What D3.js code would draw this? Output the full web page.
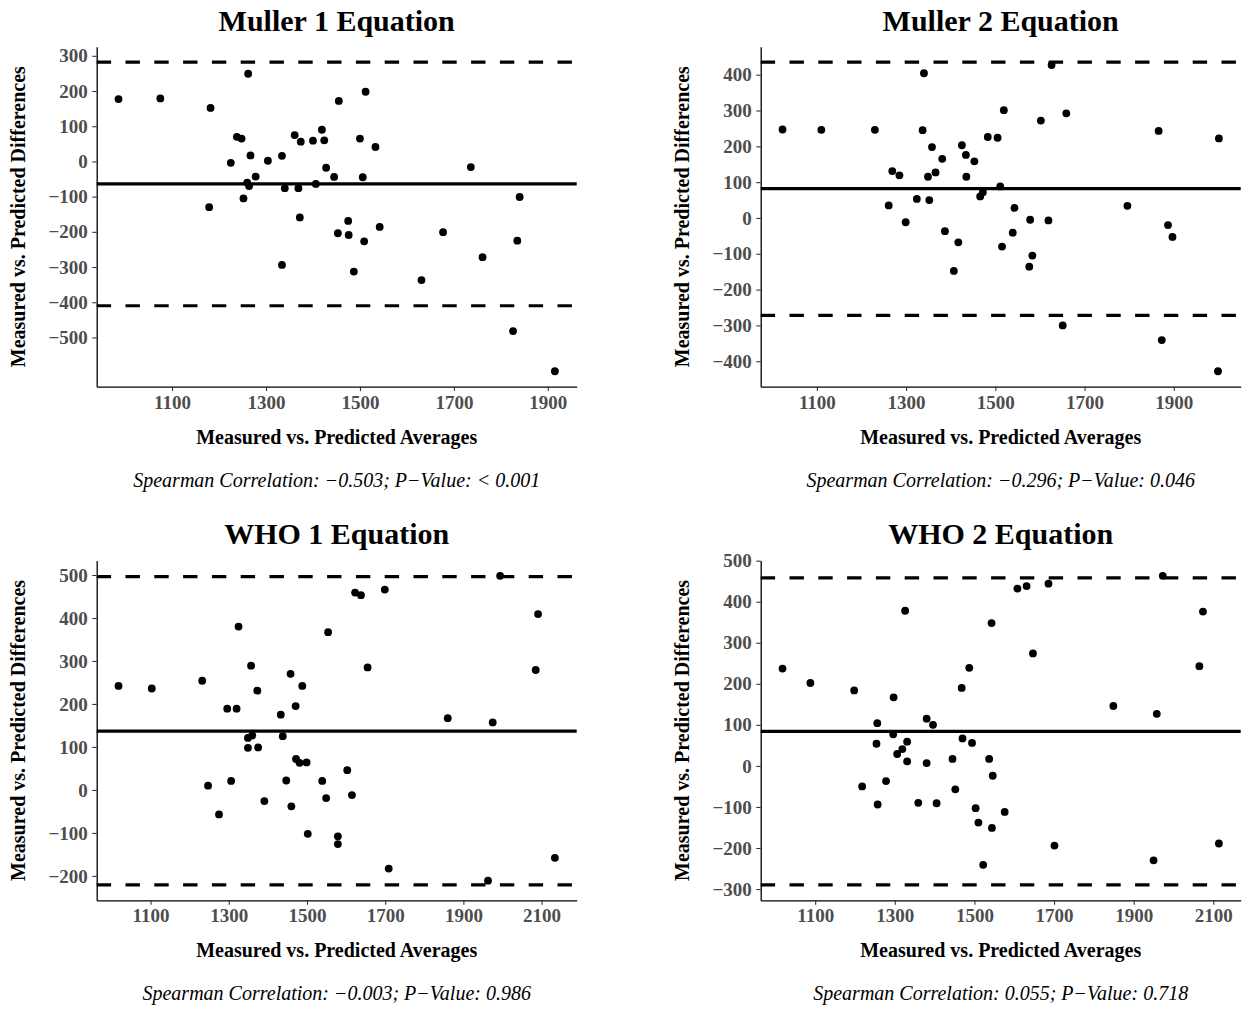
<!DOCTYPE html>
<html>
<head>
<meta charset="utf-8">
<script src="https://cdn.jsdelivr.net/npm/d3@7"></script>
<style>
body { margin: 0; background: #fff; }
svg { display: block; font-family: 'Liberation Serif', 'Times New Roman', serif; }
</style>
</head>
<body>
<div id="chart-area"></div>
<script>
// Bland-Altman style panels: averages (x) vs differences (y)
var titles = ['Muller 1 Equation', 'Muller 2 Equation', 'WHO 1 Equation', 'WHO 2 Equation'];
var captions = [
	'Spearman Correlation: \u22120.503; P\u2212Value: < 0.001',
	'Spearman Correlation: \u22120.296; P\u2212Value: 0.046',
	'Spearman Correlation: \u22120.003; P\u2212Value: 0.986',
	'Spearman Correlation: 0.055; P\u2212Value: 0.718'
];

var muller1X = [986, 1075, 1182, 1179, 1225, 1238, 1248, 1262, 1267, 1260, 1264, 1252, 1278, 1304, 1334, 1334, 1340, 1361, 1369, 1374, 1372, 1400, 1406, 1419, 1424, 1428, 1445, 1455, 1453, 1475, 1476, 1487, 1500, 1506, 1512, 1509, 1533, 1542, 1631, 1677, 1736, 1761, 1826, 1835, 1840, 1915];
var muller1Y = [177, 179, 152, -130, -4, 70, 65, 249, 17, -60, -70, -105, -43, 2, 16, -294, -76, 75, -76, 56, -159, 59, -64, 90, 60, -18, -44, 172, -204, -169, -209, -313, 65, -45, 198, -227, 41, -186, -337, -201, -16, -272, -482, -225, -101, -596];
var muller1Lines = [-64, 282, -410];

var muller2X = [1023, 1110, 1230, 1261, 1269, 1285, 1299, 1324, 1337, 1340, 1349, 1352, 1358, 1366, 1381, 1387, 1407, 1417, 1425, 1434, 1435, 1453, 1466, 1472, 1483, 1505, 1511, 1515, 1519, 1539, 1543, 1576, 1578, 1583, 1602, 1619, 1626, 1651, 1659, 1796, 1866, 1887, 1873, 1897, 2001, 1999];
var muller2Y = [247, 246, 246, 35, 131, 119, -12, 53, 245, 404, 115, 50, 198, 127, 165, -37, -148, -68, 203, 176, 115, 158, 60, 72, 226, 224, 88, -80, 301, -41, 28, -136, -5, -105, 272, -7, 427, -300, 292, 34, 243, -20, -341, -53, 222, -428];
var muller2Lines = [82, 435, -272];

var who1X = [1018, 1103, 1232, 1247, 1275, 1296, 1306, 1320, 1325, 1349, 1349, 1357, 1360, 1373, 1375, 1391, 1433, 1438, 1447, 1458, 1460, 1471, 1472, 1481, 1488, 1499, 1502, 1539, 1549, 1554, 1579, 1579, 1603, 1615, 1623, 1638, 1655, 1699, 1709, 1860, 1963, 1975, 1994, 2085, 2091, 2134];
var who1Y = [242, 236, 254, 10, -57, 189, 21, 189, 380, 121, 98, 289, 127, 231, 99, -26, 175, 125, 22, 270, -38, 195, 72, 63, 242, 64, -102, 21, -19, 367, -108, -126, 46, -12, 459, 453, 285, 466, -183, 167, -211, 157, 498, 279, 409, -158];
var who1Lines = [137, 496, -221];

var who2X = [1018, 1088, 1198, 1218, 1254, 1256, 1257, 1278, 1296, 1297, 1306, 1319, 1326, 1331, 1331, 1359, 1380, 1380, 1396, 1405, 1445, 1452, 1468, 1470, 1487, 1494, 1503, 1510, 1522, 1537, 1543, 1544, 1546, 1576, 1608, 1631, 1647, 1686, 1701, 1849, 1950, 1958, 1973, 2065, 2074, 2114];
var who2Y = [237, 202, 184, -50, 54, 104, -94, -37, 77, 167, 29, 41, 378, 59, 11, -90, 115, 7, 100, -91, 17, -57, 190, 67, 239, 56, -103, -138, -241, 17, 348, -151, -24, -112, 432, 438, 274, 444, -194, 146, -230, 127, 463, 243, 376, -189];
var who2Lines = [84, 458, -290];

var muller1YTicks = [300, 200, 100, 0, -100, -200, -300, -400, -500];
var muller2YTicks = [400, 300, 200, 100, 0, -100, -200, -300, -400];
var who1YTicks = [500, 400, 300, 200, 100, 0, -100, -200];
var who2YTicks = [500, 400, 300, 200, 100, 0, -100, -200, -300];
var xTicksShort = [1100, 1300, 1500, 1700, 1900];
var xTicksLong = [1100, 1300, 1500, 1700, 1900, 2100];

var panels = [
	{ xs: muller1X, ys: muller1Y, lines: muller1Lines, yTicks: muller1YTicks, xTicks: xTicksShort, left: 96.7, top: 46.7 },
	{ xs: muller2X, ys: muller2Y, lines: muller2Lines, yTicks: muller2YTicks, xTicks: xTicksShort, left: 760.7, top: 46.7 },
	{ xs: who1X, ys: who1Y, lines: who1Lines, yTicks: who1YTicks, xTicks: xTicksLong, left: 96.7, top: 560.4 },
	{ xs: who2X, ys: who2Y, lines: who2Lines, yTicks: who2YTicks, xTicks: xTicksLong, left: 760.7, top: 560.4 }
];

var width = 480;
var height = 340;

var svg = d3.select('#chart-area').append('svg')
	.attr('width', 1248)
	.attr('height', 1009);

// ggplot-style 5% padding on each side
function expand(ext) {
	var pad = (ext[1] - ext[0]) * 0.05;
	return [ext[0] - pad, ext[1] + pad];
}

panels.forEach((p, i) => {
	var g = svg.append('g').attr('transform', `translate(${p.left}, ${p.top})`);
	var pts = p.xs.map((v, j) => ({ x: v, y: p.ys[j] }));

	var x = d3.scaleLinear().domain(expand(d3.extent(p.xs))).range([0, width]);
	var y = d3.scaleLinear().domain(expand(d3.extent(p.ys.concat(p.lines)))).range([height, 0]);

	// mean and limits of agreement
	g.selectAll('line.ref').data(p.lines).enter()
		.append('line')
			.attr('class', 'ref')
			.attr('x1', 0)
			.attr('x2', width)
			.attr('y1', d => y(d))
			.attr('y2', d => y(d))
			.attr('stroke', '#000')
			.attr('stroke-width', 3.2)
			.attr('stroke-dasharray', (d, j) => j === 0 ? null : '14.4,14.4');

	g.selectAll('circle').data(pts).enter()
		.append('circle')
			.attr('cx', d => x(d.x))
			.attr('cy', d => y(d.y))
			.attr('r', 3.9)
			.attr('fill', '#000');

	var xAxis = g.append('g').attr('transform', `translate(0, ${height})`)
		.call(d3.axisBottom(x).tickValues(p.xTicks).tickSize(4.4).tickSizeOuter(0).tickPadding(4).tickFormat(d3.format('d')));
	var yAxis = g.append('g')
		.call(d3.axisLeft(y).tickValues(p.yTicks).tickSize(4.4).tickSizeOuter(0).tickPadding(4.5).tickFormat(d => d < 0 ? '\u2212' + Math.abs(d) : d));

	[xAxis, yAxis].forEach(a => {
		a.select('.domain').attr('stroke', '#000').attr('stroke-width', 1.3);
		a.selectAll('.tick line').attr('stroke', '#333').attr('stroke-width', 1.1);
		a.selectAll('.tick text')
			.attr('font-family', "'Liberation Serif', 'Times New Roman', serif")
			.attr('font-size', '19px')
			.attr('font-weight', 'bold')
			.attr('fill', '#4d4d4d');
	});

	g.append('text')
		.attr('x', width / 2)
		.attr('y', -16)
		.attr('text-anchor', 'middle')
		.attr('font-size', '30px')
		.attr('font-weight', 'bold')
		.text(titles[i]);

	g.append('text')
		.attr('x', width / 2)
		.attr('y', height + 57)
		.attr('text-anchor', 'middle')
		.attr('font-size', '20px')
		.attr('font-weight', 'bold')
		.text('Measured vs. Predicted Averages');

	g.append('text')
		.attr('x', - (height / 2))
		.attr('y', -72)
		.attr('text-anchor', 'middle')
		.attr('transform', 'rotate(-90)')
		.attr('font-size', '20px')
		.attr('font-weight', 'bold')
		.text('Measured vs. Predicted Differences');

	g.append('text')
		.attr('x', width / 2)
		.attr('y', height + 100)
		.attr('text-anchor', 'middle')
		.attr('font-size', '20px')
		.attr('font-style', 'italic')
		.text(captions[i]);
});
</script>
</body>
</html>
